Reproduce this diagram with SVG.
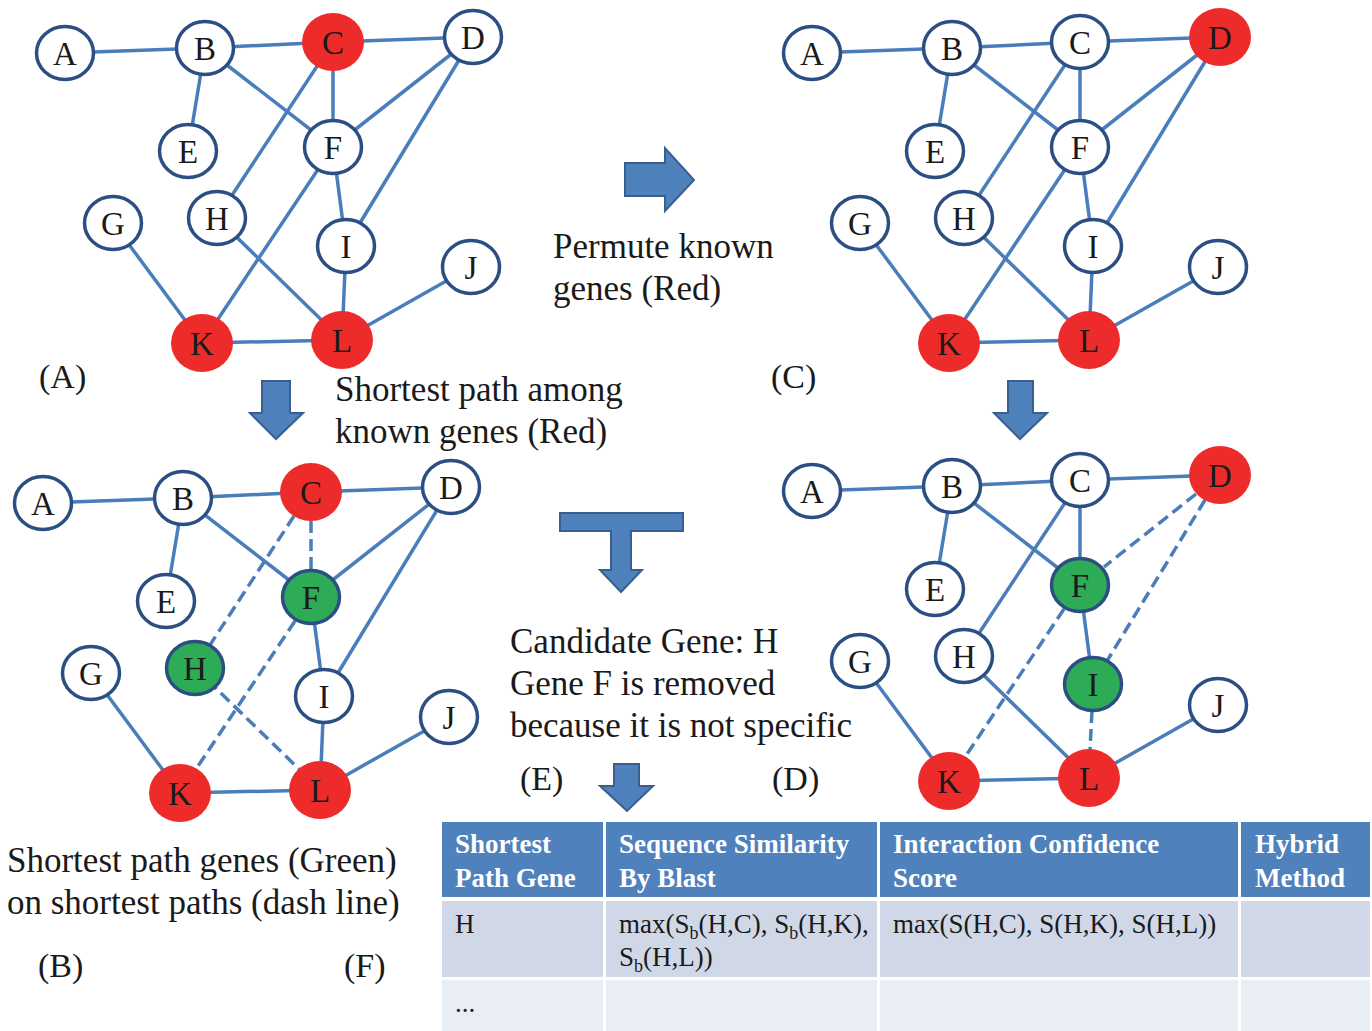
<svg xmlns="http://www.w3.org/2000/svg" width="1372" height="1031" viewBox="0 0 1372 1031">
<style>
.e{stroke:#4a7ebb;stroke-width:3.5;fill:none}
.d{stroke:#4a7ebb;stroke-width:3.5;fill:none;stroke-dasharray:12 6}
.n{fill:#fff;stroke:#2b4f82;stroke-width:3.5}
.r{fill:#ee2b2b}
.g{fill:#2eab56;stroke:#2b4f82;stroke-width:3.5}
.t{font-family:"Liberation Serif",serif;font-size:33px;fill:#1a1a1a;text-anchor:middle}
.lab{font-family:"Liberation Serif",serif;font-size:34px;fill:#1a1a1a}
.cap{font-family:"Liberation Serif",serif;font-size:35px;fill:#1a1a1a}
.arr{fill:#4f81bd;stroke:#3a5f8f;stroke-width:2;stroke-linejoin:miter}
.th{font-family:"Liberation Serif",serif;font-size:27px;font-weight:bold;fill:#fff}
.td{font-family:"Liberation Serif",serif;font-size:27px;fill:#1a1a1a}
.sub{font-size:18px}
</style>

<!-- Graph A -->
<g id="graphA">
<g id="graphA-edges">
<line class="e" x1="65" y1="53" x2="205" y2="48"/>
<line class="e" x1="205" y1="48" x2="333" y2="42"/>
<line class="e" x1="333" y1="42" x2="473" y2="37"/>
<line class="e" x1="205" y1="48" x2="188" y2="151"/>
<line class="e" x1="205" y1="48" x2="333" y2="147"/>
<line class="e" x1="333" y1="42" x2="333" y2="147"/>
<line class="e" x1="333" y1="42" x2="217" y2="218"/>
<line class="e" x1="473" y1="37" x2="333" y2="147"/>
<line class="e" x1="473" y1="37" x2="346" y2="246"/>
<line class="e" x1="333" y1="147" x2="346" y2="246"/>
<line class="e" x1="333" y1="147" x2="202" y2="343"/>
<line class="e" x1="113" y1="223" x2="202" y2="343"/>
<line class="e" x1="217" y1="218" x2="342" y2="340"/>
<line class="e" x1="346" y1="246" x2="342" y2="340"/>
<line class="e" x1="471" y1="267" x2="342" y2="340"/>
<line class="e" x1="202" y1="343" x2="342" y2="340"/>
</g>
<g id="a-A"><ellipse class="n" cx="65" cy="53" rx="28.5" ry="26.5"/><text class="t" x="65" y="65">A</text></g>
<g id="a-B"><ellipse class="n" cx="205" cy="48" rx="28.5" ry="26.5"/><text class="t" x="205" y="60">B</text></g>
<g id="a-C"><ellipse class="r" cx="333" cy="42" rx="31" ry="29"/><text class="t" x="333" y="54">C</text></g>
<g id="a-D"><ellipse class="n" cx="473" cy="37" rx="28.5" ry="26.5"/><text class="t" x="473" y="49">D</text></g>
<g id="a-E"><ellipse class="n" cx="188" cy="151" rx="28.5" ry="26.5"/><text class="t" x="188" y="163">E</text></g>
<g id="a-F"><ellipse class="n" cx="333" cy="147" rx="28.5" ry="26.5"/><text class="t" x="333" y="159">F</text></g>
<g id="a-G"><ellipse class="n" cx="113" cy="223" rx="28.5" ry="26.5"/><text class="t" x="113" y="235">G</text></g>
<g id="a-H"><ellipse class="n" cx="217" cy="218" rx="28.5" ry="26.5"/><text class="t" x="217" y="230">H</text></g>
<g id="a-I"><ellipse class="n" cx="346" cy="246" rx="28.5" ry="26.5"/><text class="t" x="346" y="258">I</text></g>
<g id="a-J"><ellipse class="n" cx="471" cy="267" rx="28.5" ry="26.5"/><text class="t" x="471" y="279">J</text></g>
<g id="a-K"><ellipse class="r" cx="202" cy="343" rx="31" ry="29"/><text class="t" x="202" y="355">K</text></g>
<g id="a-L"><ellipse class="r" cx="342" cy="340" rx="31" ry="29"/><text class="t" x="342" y="352">L</text></g>
</g>

<!-- Graph C (permuted) -->
<g id="graphC" transform="translate(747,0)">
<g id="graphC-edges">
<line class="e" x1="65" y1="53" x2="205" y2="48"/>
<line class="e" x1="205" y1="48" x2="333" y2="42"/>
<line class="e" x1="333" y1="42" x2="473" y2="37"/>
<line class="e" x1="205" y1="48" x2="188" y2="151"/>
<line class="e" x1="205" y1="48" x2="333" y2="147"/>
<line class="e" x1="333" y1="42" x2="333" y2="147"/>
<line class="e" x1="333" y1="42" x2="217" y2="218"/>
<line class="e" x1="473" y1="37" x2="333" y2="147"/>
<line class="e" x1="473" y1="37" x2="346" y2="246"/>
<line class="e" x1="333" y1="147" x2="346" y2="246"/>
<line class="e" x1="333" y1="147" x2="202" y2="343"/>
<line class="e" x1="113" y1="223" x2="202" y2="343"/>
<line class="e" x1="217" y1="218" x2="342" y2="340"/>
<line class="e" x1="346" y1="246" x2="342" y2="340"/>
<line class="e" x1="471" y1="267" x2="342" y2="340"/>
<line class="e" x1="202" y1="343" x2="342" y2="340"/>
</g>
<g id="c-A"><ellipse class="n" cx="65" cy="53" rx="28.5" ry="26.5"/><text class="t" x="65" y="65">A</text></g>
<g id="c-B"><ellipse class="n" cx="205" cy="48" rx="28.5" ry="26.5"/><text class="t" x="205" y="60">B</text></g>
<g id="c-C"><ellipse class="n" cx="333" cy="42" rx="28.5" ry="26.5"/><text class="t" x="333" y="54">C</text></g>
<g id="c-D"><ellipse class="r" cx="473" cy="37" rx="31" ry="29"/><text class="t" x="473" y="49">D</text></g>
<g id="c-E"><ellipse class="n" cx="188" cy="151" rx="28.5" ry="26.5"/><text class="t" x="188" y="163">E</text></g>
<g id="c-F"><ellipse class="n" cx="333" cy="147" rx="28.5" ry="26.5"/><text class="t" x="333" y="159">F</text></g>
<g id="c-G"><ellipse class="n" cx="113" cy="223" rx="28.5" ry="26.5"/><text class="t" x="113" y="235">G</text></g>
<g id="c-H"><ellipse class="n" cx="217" cy="218" rx="28.5" ry="26.5"/><text class="t" x="217" y="230">H</text></g>
<g id="c-I"><ellipse class="n" cx="346" cy="246" rx="28.5" ry="26.5"/><text class="t" x="346" y="258">I</text></g>
<g id="c-J"><ellipse class="n" cx="471" cy="267" rx="28.5" ry="26.5"/><text class="t" x="471" y="279">J</text></g>
<g id="c-K"><ellipse class="r" cx="202" cy="343" rx="31" ry="29"/><text class="t" x="202" y="355">K</text></g>
<g id="c-L"><ellipse class="r" cx="342" cy="340" rx="31" ry="29"/><text class="t" x="342" y="352">L</text></g>
</g>

<!-- Graph B (shortest paths) -->
<g id="graphB" transform="translate(-22,450)">
<g id="graphB-edges">
<line class="e" x1="65" y1="53" x2="205" y2="48"/>
<line class="e" x1="205" y1="48" x2="333" y2="42"/>
<line class="e" x1="333" y1="42" x2="473" y2="37"/>
<line class="e" x1="205" y1="48" x2="188" y2="151"/>
<line class="e" x1="205" y1="48" x2="333" y2="147"/>
<line class="d" x1="333" y1="71" x2="333" y2="120"/>
<line class="d" x1="316" y1="66" x2="217" y2="218"/>
<line class="e" x1="473" y1="37" x2="333" y2="147"/>
<line class="e" x1="473" y1="37" x2="346" y2="246"/>
<line class="e" x1="333" y1="147" x2="346" y2="246"/>
<line class="d" x1="317" y1="171" x2="202" y2="343"/>
<line class="e" x1="113" y1="223" x2="202" y2="343"/>
<line class="d" x1="217" y1="218" x2="322" y2="320"/>
<line class="e" x1="346" y1="246" x2="342" y2="340"/>
<line class="e" x1="471" y1="267" x2="342" y2="340"/>
<line class="e" x1="202" y1="343" x2="342" y2="340"/>
</g>
<g id="b-A"><ellipse class="n" cx="65" cy="53" rx="28.5" ry="26.5"/><text class="t" x="65" y="65">A</text></g>
<g id="b-B"><ellipse class="n" cx="205" cy="48" rx="28.5" ry="26.5"/><text class="t" x="205" y="60">B</text></g>
<g id="b-C"><ellipse class="r" cx="333" cy="42" rx="31" ry="29"/><text class="t" x="333" y="54">C</text></g>
<g id="b-D"><ellipse class="n" cx="473" cy="37" rx="28.5" ry="26.5"/><text class="t" x="473" y="49">D</text></g>
<g id="b-E"><ellipse class="n" cx="188" cy="151" rx="28.5" ry="26.5"/><text class="t" x="188" y="163">E</text></g>
<g id="b-F"><ellipse class="g" cx="333" cy="147" rx="28.5" ry="26.5"/><text class="t" x="333" y="159">F</text></g>
<g id="b-G"><ellipse class="n" cx="113" cy="223" rx="28.5" ry="26.5"/><text class="t" x="113" y="235">G</text></g>
<g id="b-H"><ellipse class="g" cx="217" cy="218" rx="28.5" ry="26.5"/><text class="t" x="217" y="230">H</text></g>
<g id="b-I"><ellipse class="n" cx="346" cy="246" rx="28.5" ry="26.5"/><text class="t" x="346" y="258">I</text></g>
<g id="b-J"><ellipse class="n" cx="471" cy="267" rx="28.5" ry="26.5"/><text class="t" x="471" y="279">J</text></g>
<g id="b-K"><ellipse class="r" cx="202" cy="343" rx="31" ry="29"/><text class="t" x="202" y="355">K</text></g>
<g id="b-L"><ellipse class="r" cx="342" cy="340" rx="31" ry="29"/><text class="t" x="342" y="352">L</text></g>
</g>

<!-- Graph D (permuted shortest paths) -->
<g id="graphD" transform="translate(747,438)">
<g id="graphD-edges">
<line class="e" x1="65" y1="53" x2="205" y2="48"/>
<line class="e" x1="205" y1="48" x2="333" y2="42"/>
<line class="e" x1="333" y1="42" x2="473" y2="37"/>
<line class="e" x1="205" y1="48" x2="188" y2="151"/>
<line class="e" x1="205" y1="48" x2="333" y2="147"/>
<line class="e" x1="333" y1="42" x2="333" y2="147"/>
<line class="e" x1="333" y1="42" x2="217" y2="218"/>
<line class="d" x1="449" y1="56" x2="357" y2="129"/>
<line class="d" x1="458" y1="62" x2="346" y2="246"/>
<line class="e" x1="333" y1="147" x2="346" y2="246"/>
<line class="d" x1="317" y1="171" x2="202" y2="343"/>
<line class="e" x1="113" y1="223" x2="202" y2="343"/>
<line class="e" x1="217" y1="218" x2="342" y2="340"/>
<line class="d" x1="345" y1="273" x2="343" y2="312"/>
<line class="e" x1="471" y1="267" x2="342" y2="340"/>
<line class="e" x1="202" y1="343" x2="342" y2="340"/>
</g>
<g id="d-A"><ellipse class="n" cx="65" cy="53" rx="28.5" ry="26.5"/><text class="t" x="65" y="65">A</text></g>
<g id="d-B"><ellipse class="n" cx="205" cy="48" rx="28.5" ry="26.5"/><text class="t" x="205" y="60">B</text></g>
<g id="d-C"><ellipse class="n" cx="333" cy="42" rx="28.5" ry="26.5"/><text class="t" x="333" y="54">C</text></g>
<g id="d-D"><ellipse class="r" cx="473" cy="37" rx="31" ry="29"/><text class="t" x="473" y="49">D</text></g>
<g id="d-E"><ellipse class="n" cx="188" cy="151" rx="28.5" ry="26.5"/><text class="t" x="188" y="163">E</text></g>
<g id="d-F"><ellipse class="g" cx="333" cy="147" rx="28.5" ry="26.5"/><text class="t" x="333" y="159">F</text></g>
<g id="d-G"><ellipse class="n" cx="113" cy="223" rx="28.5" ry="26.5"/><text class="t" x="113" y="235">G</text></g>
<g id="d-H"><ellipse class="n" cx="217" cy="218" rx="28.5" ry="26.5"/><text class="t" x="217" y="230">H</text></g>
<g id="d-I"><ellipse class="g" cx="346" cy="246" rx="28.5" ry="26.5"/><text class="t" x="346" y="258">I</text></g>
<g id="d-J"><ellipse class="n" cx="471" cy="267" rx="28.5" ry="26.5"/><text class="t" x="471" y="279">J</text></g>
<g id="d-K"><ellipse class="r" cx="202" cy="343" rx="31" ry="29"/><text class="t" x="202" y="355">K</text></g>
<g id="d-L"><ellipse class="r" cx="342" cy="340" rx="31" ry="29"/><text class="t" x="342" y="352">L</text></g>
</g>

<!-- Block arrows -->
<g id="arrows">
<polygon class="arr" points="625,163 665,163 665,148 694,180 665,211 665,196 625,196"/>
<polygon class="arr" points="262,381 290,381 290,413 303,413 276,439 250,413 262,413"/>
<polygon class="arr" points="1008,381 1033,381 1033,413 1047,413 1020,439 994,413 1008,413"/>
<polygon class="arr" points="560,513 683,513 683,531 631,531 631,570 642,570 621,592 600,570 611,570 611,531 560,531"/>
<polygon class="arr" points="614,764 639,764 639,786 653,786 627,811 600,786 614,786"/>
</g>

<!-- Captions -->
<g id="captions">
<text class="lab" x="39" y="388">(A)</text>
<text class="lab" x="771" y="388">(C)</text>
<text class="lab" x="38" y="977">(B)</text>
<text class="lab" x="344" y="977">(F)</text>
<text class="lab" x="520" y="790">(E)</text>
<text class="lab" x="772" y="790">(D)</text>
<text class="cap" x="553" y="258">Permute known</text>
<text class="cap" x="553" y="300">genes (Red)</text>
<text class="cap" x="335" y="401">Shortest path among</text>
<text class="cap" x="335" y="443">known genes (Red)</text>
<text class="cap" x="510" y="653">Candidate Gene: H</text>
<text class="cap" x="510" y="695">Gene F is removed</text>
<text class="cap" x="510" y="737">because it is not specific</text>
<text class="cap" x="7" y="872">Shortest path genes (Green)</text>
<text class="cap" x="7" y="914">on shortest paths (dash line)</text>
</g>

<!-- Table -->
<g id="table">
<rect x="442" y="822" width="161" height="75" fill="#4f81bd"/>
<rect x="606" y="822" width="271" height="75" fill="#4f81bd"/>
<rect x="880" y="822" width="358" height="75" fill="#4f81bd"/>
<rect x="1241" y="822" width="129" height="75" fill="#4f81bd"/>
<rect x="442" y="901" width="161" height="76" fill="#d0d8e8"/>
<rect x="606" y="901" width="271" height="76" fill="#d0d8e8"/>
<rect x="880" y="901" width="358" height="76" fill="#d0d8e8"/>
<rect x="1241" y="901" width="129" height="76" fill="#d0d8e8"/>
<rect x="442" y="980" width="161" height="51" fill="#e9edf4"/>
<rect x="606" y="980" width="271" height="51" fill="#e9edf4"/>
<rect x="880" y="980" width="358" height="51" fill="#e9edf4"/>
<rect x="1241" y="980" width="129" height="51" fill="#e9edf4"/>
<text class="th" x="455" y="853">Shortest</text>
<text class="th" x="455" y="887">Path Gene</text>
<text class="th" x="619" y="853">Sequence Similarity</text>
<text class="th" x="619" y="887">By Blast</text>
<text class="th" x="893" y="853">Interaction Confidence</text>
<text class="th" x="893" y="887">Score</text>
<text class="th" x="1255" y="853">Hybrid</text>
<text class="th" x="1255" y="887">Method</text>
<text class="td" x="455" y="933">H</text>
<text class="td" x="619" y="933">max(S<tspan class="sub" dy="6">b</tspan><tspan dy="-6">(H,C), S</tspan><tspan class="sub" dy="6">b</tspan><tspan dy="-6">(H,K),</tspan></text>
<text class="td" x="619" y="966">S<tspan class="sub" dy="6">b</tspan><tspan dy="-6">(H,L))</tspan></text>
<text class="td" x="893" y="933">max(S(H,C), S(H,K), S(H,L))</text>
<text class="td" x="455" y="1012">...</text>
</g>
</svg>
